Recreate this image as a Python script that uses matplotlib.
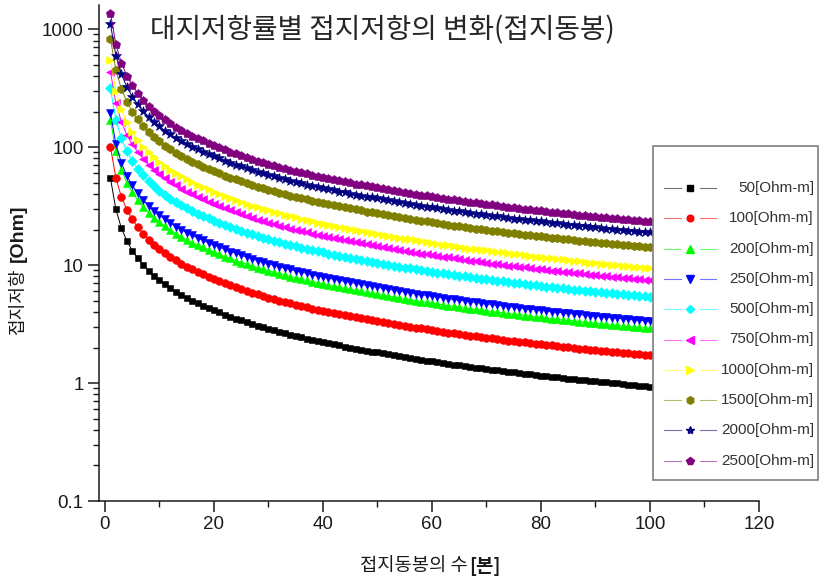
import matplotlib
matplotlib.use("Agg")
import matplotlib.pyplot as plt
from matplotlib.lines import Line2D
from matplotlib.patches import Rectangle
from matplotlib.ticker import FixedLocator, NullFormatter, LogLocator

plt.rcParams['font.family'] = ['Liberation Sans', 'Noto Sans CJK KR', 'DejaVu Sans']
KR = ['Noto Sans CJK KR', 'Liberation Sans']

# number of ground rods
rods = list(range(1, 101))

# ground resistance [Ohm] for each soil resistivity
r_50 = [54.6, 29.57, 20.65, 16.01, 13.27, 11.39, 10.01, 8.94, 8.10, 7.42,
        6.845, 6.36, 5.95, 5.59, 5.275, 4.995, 4.75, 4.525, 4.325, 4.143,
        3.965, 3.802, 3.653, 3.516, 3.389, 3.271, 3.162, 3.061, 2.966, 2.877,
        2.793, 2.714, 2.640, 2.570, 2.503, 2.441, 2.381, 2.325, 2.271, 2.220,
        2.171, 2.124, 2.080, 2.038, 1.997, 1.958, 1.920, 1.884, 1.849, 1.816,
        1.782, 1.749, 1.717, 1.687, 1.657, 1.629, 1.601, 1.575, 1.549, 1.524,
        1.500, 1.477, 1.455, 1.433, 1.412, 1.391, 1.371, 1.352, 1.333, 1.315,
        1.297, 1.280, 1.263, 1.246, 1.230, 1.215, 1.200, 1.185, 1.170, 1.156,
        1.143, 1.129, 1.116, 1.104, 1.091, 1.079, 1.067, 1.055, 1.044, 1.033,
        1.022, 1.011, 1.001, 0.991, 0.981, 0.971, 0.961, 0.952, 0.943, 0.934]
r_100 = [100.5, 54.4, 38.0, 29.5, 24.4, 21.0, 18.4, 16.4, 14.9, 13.65,
         12.6, 11.7, 10.95, 10.3, 9.71, 9.19, 8.74, 8.33, 7.96, 7.62,
         7.30, 7.00, 6.72, 6.47, 6.24, 6.02, 5.82, 5.63, 5.46, 5.29,
         5.14, 4.99, 4.86, 4.73, 4.61, 4.49, 4.38, 4.28, 4.18, 4.08,
         3.99, 3.91, 3.83, 3.75, 3.67, 3.60, 3.53, 3.47, 3.40, 3.34,
         3.28, 3.22, 3.16, 3.10, 3.05, 3.00, 2.95, 2.90, 2.85, 2.80,
         2.76, 2.72, 2.68, 2.64, 2.60, 2.56, 2.52, 2.49, 2.45, 2.42,
         2.39, 2.36, 2.32, 2.29, 2.26, 2.24, 2.21, 2.18, 2.15, 2.13,
         2.10, 2.08, 2.05, 2.03, 2.01, 1.99, 1.96, 1.94, 1.92, 1.90,
         1.88, 1.86, 1.84, 1.82, 1.81, 1.79, 1.77, 1.75, 1.74, 1.72]
r_200 = [169.8, 92.0, 64.2, 49.8, 41.3, 35.4, 31.1, 27.8, 25.2, 23.1,
         21.3, 19.8, 18.5, 17.4, 16.4, 15.5, 14.8, 14.1, 13.45, 12.9,
         12.3, 11.8, 11.4, 10.9, 10.5, 10.2, 9.83, 9.52, 9.22, 8.95,
         8.69, 8.44, 8.21, 7.99, 7.78, 7.59, 7.40, 7.23, 7.06, 6.90,
         6.75, 6.61, 6.47, 6.34, 6.21, 6.09, 5.97, 5.86, 5.75, 5.65,
         5.54, 5.44, 5.34, 5.25, 5.15, 5.07, 4.98, 4.90, 4.82, 4.74,
         4.67, 4.59, 4.53, 4.46, 4.39, 4.33, 4.26, 4.20, 4.15, 4.09,
         4.03, 3.98, 3.93, 3.88, 3.83, 3.78, 3.73, 3.69, 3.64, 3.60,
         3.55, 3.51, 3.47, 3.43, 3.39, 3.36, 3.32, 3.28, 3.25, 3.21,
         3.18, 3.14, 3.11, 3.08, 3.05, 3.02, 2.99, 2.96, 2.93, 2.90]
r_250 = [195, 105.6, 73.7, 57.2, 47.4, 40.7, 35.7, 31.9, 28.9, 26.5,
         24.4, 22.7, 21.2, 20.0, 18.8, 17.8, 17.0, 16.2, 15.4, 14.8,
         14.2, 13.6, 13.0, 12.6, 12.1, 11.7, 11.3, 10.9, 10.6, 10.3,
         9.97, 9.69, 9.42, 9.17, 8.94, 8.71, 8.50, 8.30, 8.11, 7.93,
         7.75, 7.58, 7.43, 7.28, 7.13, 6.99, 6.85, 6.73, 6.60, 6.48,
         6.36, 6.24, 6.13, 6.02, 5.92, 5.82, 5.72, 5.62, 5.53, 5.44,
         5.36, 5.27, 5.19, 5.12, 5.04, 4.97, 4.89, 4.83, 4.76, 4.69,
         4.63, 4.57, 4.51, 4.45, 4.39, 4.34, 4.28, 4.23, 4.18, 4.13,
         4.08, 4.03, 3.98, 3.94, 3.89, 3.85, 3.81, 3.77, 3.73, 3.69,
         3.65, 3.61, 3.57, 3.54, 3.50, 3.47, 3.43, 3.40, 3.37, 3.33]
r_500 = [314, 170, 118.7, 92.1, 76.3, 65.5, 57.6, 51.4, 46.6, 42.7,
         39.4, 36.6, 34.2, 32.1, 30.3, 28.7, 27.3, 26.0, 24.9, 23.8,
         22.8, 21.9, 21.0, 20.2, 19.5, 18.8, 18.2, 17.6, 17.1, 16.5,
         16.1, 15.6, 15.2, 14.8, 14.4, 14.0, 13.7, 13.4, 13.1, 12.8,
         12.5, 12.2, 12.0, 11.7, 11.5, 11.3, 11.0, 10.8, 10.6, 10.4,
         10.2, 10.1, 9.87, 9.70, 9.53, 9.37, 9.21, 9.06, 8.91, 8.76,
         8.63, 8.49, 8.37, 8.24, 8.12, 8.00, 7.88, 7.77, 7.66, 7.56,
         7.46, 7.36, 7.26, 7.16, 7.07, 6.99, 6.90, 6.81, 6.73, 6.65,
         6.57, 6.49, 6.42, 6.35, 6.27, 6.20, 6.14, 6.07, 6.00, 5.94,
         5.88, 5.81, 5.76, 5.70, 5.64, 5.58, 5.53, 5.47, 5.42, 5.37]
r_750 = [434, 235, 164, 127, 105.5, 90.6, 79.6, 71.1, 64.4, 59.0,
         54.4, 50.6, 47.3, 44.4, 41.9, 39.7, 37.8, 36.0, 34.4, 32.9,
         31.5, 30.2, 29.0, 28.0, 26.9, 26.0, 25.1, 24.3, 23.6, 22.9,
         22.2, 21.6, 21.0, 20.4, 19.9, 19.4, 18.9, 18.5, 18.1, 17.6,
         17.3, 16.9, 16.5, 16.2, 15.9, 15.6, 15.3, 15.0, 14.7, 14.4,
         14.2, 13.9, 13.65, 13.4, 13.2, 12.95, 12.7, 12.5, 12.3, 12.1,
         11.9, 11.7, 11.6, 11.4, 11.2, 11.1, 10.9, 10.75, 10.6, 10.45,
         10.3, 10.2, 10.0, 9.91, 9.78, 9.66, 9.54, 9.42, 9.30, 9.19,
         9.09, 8.98, 8.87, 8.78, 8.67, 8.58, 8.48, 8.39, 8.30, 8.21,
         8.12, 8.04, 7.96, 7.88, 7.80, 7.72, 7.64, 7.57, 7.50, 7.43]
r_1000 = [551, 299, 209, 162, 134, 115, 101, 90.3, 81.8, 74.9,
          69.1, 64.2, 60.1, 56.5, 53.3, 50.4, 48.0, 45.7, 43.7, 41.8,
          40.0, 38.4, 36.9, 35.5, 34.2, 33.0, 31.9, 30.9, 30.0, 29.1,
          28.2, 27.4, 26.7, 26.0, 25.3, 24.7, 24.0, 23.5, 22.9, 22.4,
          21.9, 21.5, 21.0, 20.6, 20.2, 19.8, 19.4, 19.0, 18.7, 18.3,
          18.0, 17.7, 17.3, 17.0, 16.7, 16.5, 16.2, 15.9, 15.6, 15.4,
          15.2, 14.9, 14.7, 14.5, 14.3, 14.0, 13.8, 13.7, 13.5, 13.3,
          13.1, 12.9, 12.8, 12.6, 12.4, 12.3, 12.1, 12.0, 11.8, 11.7,
          11.5, 11.4, 11.3, 11.15, 11.0, 10.9, 10.8, 10.65, 10.5, 10.4,
          10.3, 10.2, 10.1, 10.0, 9.91, 9.81, 9.71, 9.62, 9.52, 9.43]
r_1500 = [824, 447, 312, 242, 200, 172, 151, 135, 122, 112,
          103, 96.0, 89.8, 84.4, 79.7, 75.4, 71.7, 68.3, 65.3, 62.6,
          59.9, 57.4, 55.2, 53.1, 51.2, 49.4, 47.7, 46.2, 44.8, 43.4,
          42.2, 41.0, 39.9, 38.8, 37.8, 36.9, 36.0, 35.1, 34.3, 33.5,
          32.8, 32.1, 31.4, 30.8, 30.2, 29.6, 29.0, 28.4, 27.9, 27.4,
          26.9, 26.4, 25.9, 25.5, 25.0, 24.6, 24.2, 23.8, 23.4, 23.0,
          22.65, 22.3, 22.0, 21.6, 21.3, 21.0, 20.7, 20.4, 20.1, 19.9,
          19.6, 19.3, 19.1, 18.8, 18.6, 18.3, 18.1, 17.9, 17.7, 17.5,
          17.3, 17.0, 16.9, 16.7, 16.5, 16.3, 16.1, 15.9, 15.8, 15.6,
          15.4, 15.3, 15.1, 15.0, 14.8, 14.7, 14.5, 14.4, 14.2, 14.1]
r_2000 = [1103, 597, 417, 323, 268, 230, 202, 181, 164, 150,
          138, 128, 120, 113, 107, 101, 96.0, 91.4, 87.4, 83.7,
          80.1, 76.8, 73.8, 71.0, 68.5, 66.1, 63.9, 61.8, 59.9, 58.1,
          56.4, 54.8, 53.3, 51.9, 50.6, 49.3, 48.1, 47.0, 45.9, 44.8,
          43.9, 42.9, 42.0, 41.2, 40.3, 39.6, 38.8, 38.1, 37.4, 36.7,
          36.0, 35.3, 34.7, 34.1, 33.5, 32.9, 32.3, 31.8, 31.3, 30.8,
          30.3, 29.8, 29.4, 28.9, 28.5, 28.1, 27.7, 27.3, 26.9, 26.6,
          26.2, 25.9, 25.5, 25.2, 24.8, 24.5, 24.2, 23.9, 23.6, 23.4,
          23.1, 22.8, 22.5, 22.3, 22.0, 21.8, 21.6, 21.3, 21.1, 20.9,
          20.6, 20.4, 20.2, 20.0, 19.8, 19.6, 19.4, 19.2, 19.0, 18.9]
r_2500 = [1370, 742, 518, 402, 333, 286, 251, 224, 203, 186,
          172, 160, 149, 140, 132, 125, 119, 114, 109, 104,
          99.5, 95.4, 91.7, 88.3, 85.1, 82.1, 79.4, 76.8, 74.4, 72.2,
          70.1, 68.1, 66.3, 64.5, 62.8, 61.3, 59.8, 58.4, 57.0, 55.7,
          54.5, 53.3, 52.2, 51.2, 50.1, 49.1, 48.2, 47.3, 46.4, 45.6,
          44.7, 43.9, 43.1, 42.3, 41.6, 40.9, 40.2, 39.5, 38.9, 38.3,
          37.7, 37.1, 36.5, 36.0, 35.4, 34.9, 34.4, 33.9, 33.5, 33.0,
          32.6, 32.1, 31.7, 31.3, 30.9, 30.5, 30.1, 29.7, 29.4, 29.0,
          28.7, 28.3, 28.0, 27.7, 27.4, 27.1, 26.8, 26.5, 26.2, 25.9,
          25.7, 25.4, 25.1, 24.9, 24.6, 24.4, 24.1, 23.9, 23.7, 23.4]

series = [r_50, r_100, r_200, r_250, r_500, r_750, r_1000, r_1500, r_2000, r_2500]
labels = ['50[Ohm-m]', '100[Ohm-m]', '200[Ohm-m]', '250[Ohm-m]', '500[Ohm-m]',
          '750[Ohm-m]', '1000[Ohm-m]', '1500[Ohm-m]', '2000[Ohm-m]', '2500[Ohm-m]']
colors = ['#000000', '#ff0000', '#00ff00', '#0000ff', '#00ffff',
          '#ff00ff', '#ffff00', '#808000', '#000080', '#800080']
markers = ['s', 'o', '^', 'v', 'D', '<', '>', 'h', '*', 'p']
msizes = [5.0, 5.6, 6.0, 6.0, 5.0, 6.0, 6.0, 6.2, 7.0, 6.4]
leg_sizes = [4.4, 4.8, 5.2, 5.2, 4.4, 5.2, 5.2, 5.4, 6.0, 5.6]

W, H = 820, 585
fig = plt.figure(figsize=(W / 100, H / 100), dpi=100)
fig.patch.set_facecolor('white')

# axes box in pixel terms: left 99, right 759, top 5, bottom 501
ax = fig.add_axes([99 / W, 1 - 501 / H, (759 - 99) / W, (501 - 5) / H])
for vals, c, m, ms in zip(series, colors, markers, msizes):
    ax.plot(rods, vals, color=c, lw=0.7, marker=m, ms=ms, mec=c, mfc=c, mew=0.4)

ax.set_yscale('log')
ax.set_xlim(-1.1, 120)
ax.set_ylim(0.1, 1600)

ax.spines['top'].set_visible(False)
ax.spines['right'].set_visible(False)
for s in ('left', 'bottom'):
    ax.spines[s].set_linewidth(1.1)
    ax.spines[s].set_color('#1a1a1a')

ax.xaxis.set_major_locator(FixedLocator([0, 20, 40, 60, 80, 100, 120]))
ax.xaxis.set_minor_locator(FixedLocator([10, 30, 50, 70, 90, 110]))
ax.yaxis.set_major_locator(FixedLocator([0.1, 1, 10, 100, 1000]))
ax.yaxis.set_minor_locator(LogLocator(base=10, subs=range(2, 10), numticks=20))
ax.yaxis.set_minor_formatter(NullFormatter())
ax.set_yticklabels(['0.1', '1', '10', '100', '1000'])
ax.tick_params(which='major', direction='out', length=8, width=1.1,
               color='#1a1a1a', labelsize=13.5, labelcolor='#1a1a1a', pad=3)
ax.tick_params(which='minor', direction='out', length=4, width=1.0, color='#1a1a1a')

# title
fig.text(382 / W, 1 - 30 / H, '대지저항률별 접지저항의 변화(접지동봉)',
         ha='center', va='center', fontsize=20, family=KR, color='#262626')

# x-axis title
fig.text(468 / W, 1 - 566 / H, '접지동봉의 수', ha='right', va='center',
         fontsize=13.5, family=KR, color='#1a1a1a')
fig.text(469 / W, 1 - 566 / H, '[본]', ha='left', va='center',
         fontsize=13.5, family=KR, fontweight='bold', color='#1a1a1a')

# y-axis title
fig.text(18 / W, 1 - 335 / H, '접지저항', ha='center', va='bottom', rotation=90,
         fontsize=13, family=KR, color='#1a1a1a')
fig.text(18 / W, 1 - 262 / H, '[Ohm]', ha='center', va='bottom', rotation=90,
         fontsize=14, fontweight='bold', color='#1a1a1a')

# legend panel
fig.add_artist(Rectangle((653 / W, 1 - 480 / H), (818 - 653) / W, (480 - 146) / H,
                         transform=fig.transFigure, facecolor='white',
                         edgecolor='#7f7f7f', lw=1.2, zorder=5))
for i, (lab, c, m, ms) in enumerate(zip(labels, colors, markers, leg_sizes)):
    yp = 1 - (188 + 30.3 * i) / H
    for x0, x1 in ((664, 681), (700, 716)):
        fig.add_artist(Line2D([x0 / W, x1 / W], [yp, yp], transform=fig.transFigure,
                              color=c, lw=0.8, alpha=0.55, zorder=6))
    fig.add_artist(Line2D([690.5 / W], [yp], transform=fig.transFigure, ls='none',
                          marker=m, ms=ms, color=c, mec=c, mfc=c, zorder=6))
    fig.text(814 / W, yp, lab, ha='right', va='center', fontsize=11,
             color='#333333', zorder=7)

fig.savefig('out.png', dpi=100)
